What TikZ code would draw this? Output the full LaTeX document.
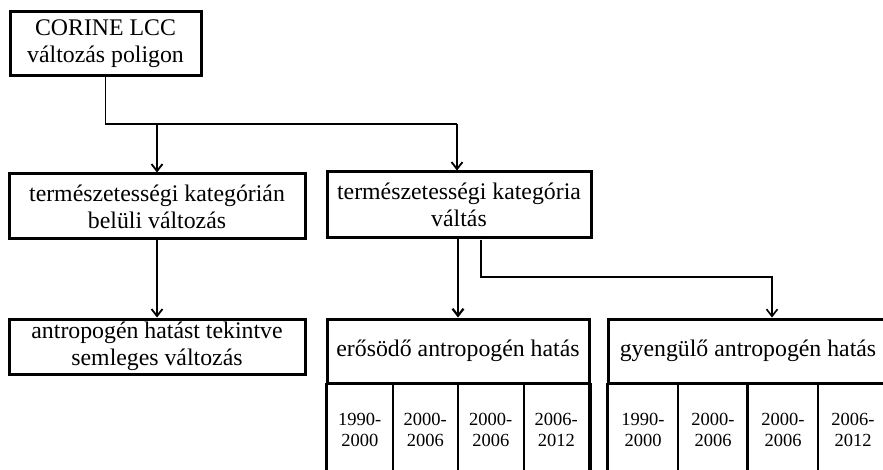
\documentclass[tikz,border=0pt]{standalone}
\usepackage{fontspec}
\setmainfont{Liberation Serif}
\usetikzlibrary{arrows.meta}
\begin{document}
\begin{tikzpicture}[x=1pt,y=-1pt,
  box/.style={draw, line width=3pt, align=center, inner sep=0pt,
    font=\fontsize{23.8}{27}\selectfont},
  cell/.style={draw, line width=2pt, align=center, inner sep=0pt,
    minimum height=92pt, anchor=north, font=\fontsize{18.5}{21}\selectfont},
  conn/.style={line width=1.8pt},
  arr/.style={conn, -{Straight Barb[length=7pt,width=11pt,line width=1.8pt]}}]
\useasboundingbox (0,0) rectangle (883,470);
\clip (0,0) rectangle (883,470);
% boxes
\node[box, minimum width=191pt, minimum height=64pt] (a) at (105.5,44) {CORINE LCC\\változás poligon};
\node[box, minimum width=296pt, minimum height=65pt] (b) at (157,206.5) {természetességi kategórián\\belüli változás};
\node[box, minimum width=296pt, minimum height=55pt] (c) at (157,346.5) {antropogén hatást tekintve\\semleges változás};
\node[box, minimum width=264pt, minimum height=66pt] (d) at (459,205) {természetességi kategória\\váltás};
\node[box, minimum width=262pt, minimum height=64pt] (e) at (458,351) {erősödő antropogén hatás};
\node[box, minimum width=280pt, minimum height=64pt] (f) at (748,351) {gyengülő antropogén hatás};
% year cells
\node[cell, minimum width=65.5pt] (e1) at (359.75,383) {1990-\\2000};
\node[cell, minimum width=65.5pt] (e2) at (425.25,383) {2000-\\2006};
\node[cell, minimum width=65.5pt] (e3) at (490.75,383) {2000-\\2006};
\node[cell, minimum width=65.5pt] (e4) at (556.25,383) {2006-\\2012};
\node[cell, minimum width=70pt] (f1) at (643,383) {1990-\\2000};
\node[cell, minimum width=70pt] (f2) at (713,383) {2000-\\2006};
\node[cell, minimum width=70pt] (f3) at (783,383) {2000-\\2006};
\node[cell, minimum width=70pt] (f4) at (853,383) {2006-\\2012};
% thick outer edges of the tables
\draw[line width=3pt] (e1.north west) -- (e1.south west);
\draw[line width=3pt] (e4.north east) -- (e4.south east);
\draw[line width=3pt] (f1.north west) -- (f1.south west);
\draw[line width=3pt] (f3.north west) -- (f3.south west);
% connectors
\coordinate (j1) at (157,124);
\coordinate (j2) at (457,124);
\coordinate (k0) at (481,240);
\coordinate (k1) at (772,277);
\draw[conn] (a.south) |- (j2);
\draw[arr] (j1) -- (j1 |- b.north);
\draw[arr] (j2) -- (j2 |- d.north);
\draw[arr] (b.south) -- (c.north);
\draw[line width=2.8pt, -{Straight Barb[length=7pt,width=11pt,line width=2.2pt]}] (e.north |- d.south) -- (e.north);
\draw[line width=1.5pt, -{Straight Barb[length=7pt,width=11pt,line width=1.6pt]}] (k0) |- (k1) -- (k1 |- f.north);
\end{tikzpicture}
\end{document}
